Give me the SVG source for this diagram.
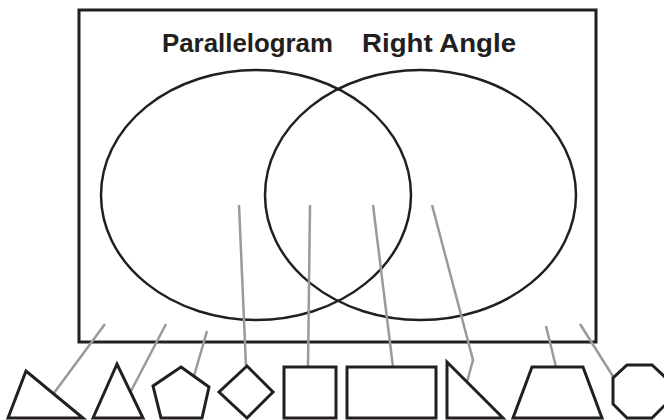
<svg xmlns="http://www.w3.org/2000/svg" width="664" height="420" viewBox="0 0 664 420">
<style>
.frame{fill:none;stroke:#231f20;stroke-width:3}
.set{fill:none;stroke:#231f20;stroke-width:2.5}
.shape{fill:#fff;stroke:#231f20;stroke-width:3;stroke-linejoin:miter}
.conn{fill:none;stroke:#999a9c;stroke-width:2.5}
.title{font-family:"Liberation Sans",Arial,sans-serif;font-weight:bold;font-size:26px;fill:#231f20}
</style>
<rect width="664" height="420" fill="#fff"/>
<g id="frame"><rect class="frame" x="79" y="10" width="517" height="332"/></g>
<g id="set-parallelogram">
<ellipse class="set" cx="256" cy="195" rx="155" ry="125"/>
<text class="title" x="162" y="52" textLength="171" lengthAdjust="spacingAndGlyphs">Parallelogram</text>
</g>
<g id="set-right-angle">
<ellipse class="set" cx="420.5" cy="195" rx="155.5" ry="125"/>
<text class="title" x="362" y="52" textLength="154" lengthAdjust="spacingAndGlyphs">Right Angle</text>
</g>
<g id="connectors">
<line class="conn" x1="105" y1="324" x2="54" y2="393"/>
<line class="conn" x1="166" y1="324" x2="131" y2="391"/>
<line class="conn" x1="207" y1="331" x2="194" y2="376"/>
<line class="conn" x1="239" y1="205" x2="246" y2="366"/>
<line class="conn" x1="310" y1="205" x2="308" y2="367"/>
<line class="conn" x1="373" y1="205" x2="393" y2="367"/>
<polyline class="conn" points="432,205 473,360 467,382"/>
<line class="conn" x1="546" y1="326" x2="556" y2="367"/>
<line class="conn" x1="580" y1="324" x2="614" y2="378"/>
</g>
<g id="scalene-triangle"><polygon class="shape" points="8,418 26,371 83,418"/></g>
<g id="isosceles-triangle"><polygon class="shape" points="93,418 117,364 143,418"/></g>
<g id="pentagon"><polygon class="shape" points="181,367 209,387 202,418 161,418 153,386"/></g>
<g id="rhombus"><polygon class="shape" points="247,366 273,392 247,418 219,392"/></g>
<g id="square"><rect class="shape" x="284" y="367" width="52" height="51"/></g>
<g id="rectangle"><rect class="shape" x="347" y="367" width="89" height="51"/></g>
<g id="right-triangle"><polygon class="shape" points="447,362 447,418 503,418"/></g>
<g id="trapezoid"><polygon class="shape" points="532,367 583,367 602,418 513,418"/></g>
<g id="octagon"><polygon class="shape" points="627,365 652,365 666,378 666,404 652,418 627,418 613,404 613,378"/></g>
</svg>
